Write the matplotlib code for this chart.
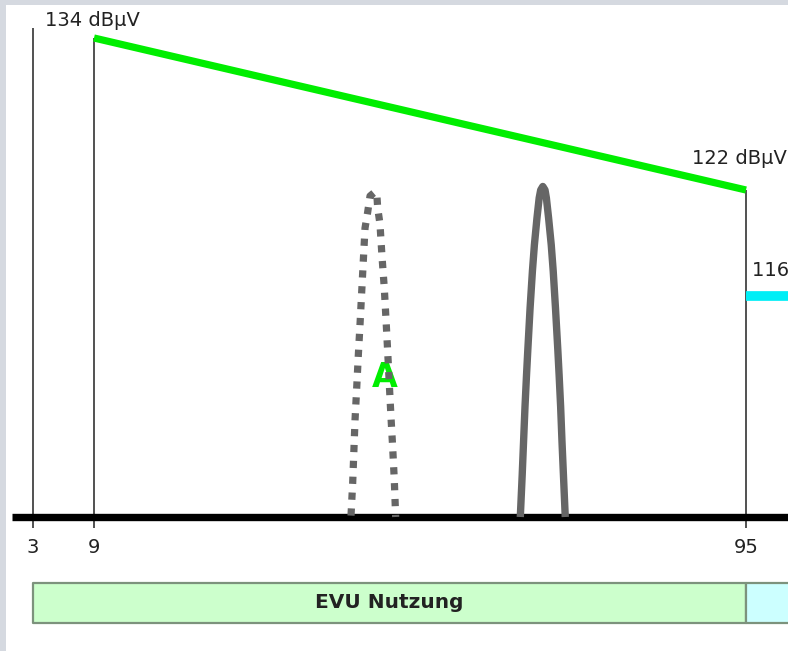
import matplotlib
matplotlib.use("Agg")
import matplotlib.pyplot as plt
import numpy as np

# --- data (frequency in kHz, level in dBµV) ---
tick_freqs = [3, 9, 95]
tick_labels = ["3", "9", "95"]

limit_freq = [9, 95]          # green limit line
limit_level = [134, 122]
limit_b_freq = [95, 125]      # cyan limit line (band B)
limit_b_level = [116, 116]

vline_freqs = [3, 9, 95]
vline_tops = [134.8, 134, 122]

band_labels = ["EVU Nutzung", ""]
band_start = [3, 95]
band_end = [95, 125]
band_colors = ["#ccffcc", "#ccffff"]

# solid signal
sig_freq = [65.23, 65.48, 65.66, 65.85, 66.05, 66.22, 66.52, 66.83, 67.09,
            67.43, 67.72, 67.92, 68.20, 68.49, 68.67, 68.96, 69.31, 69.57,
            69.87, 70.18, 70.35, 70.55, 70.73, 70.92, 71.16]
sig_level = [100, 103.04, 105.45, 107.99, 110.28, 112.09, 115.13, 117.42,
             118.90, 120.42, 121.55, 122.0, 122.28, 122.0, 121.55, 120.42,
             118.90, 117.42, 115.13, 112.09, 110.28, 107.99, 105.45, 103.04,
             100]

# dotted signal
dot_freq = [42.9, 43.12, 43.43, 43.65, 43.86, 44.09, 44.31, 44.52, 44.75,
            45.10, 45.41, 46.06, 46.29, 46.42, 46.72, 46.99, 47.29, 47.52,
            47.74, 47.95, 48.17, 48.40, 48.61, 48.79]
dot_level = [100.1, 102.46, 107.02, 109.34, 111.66, 113.97, 116.23, 117.98,
             119.85, 120.75, 121.66, 121.89, 121.85, 120.98, 120.08, 118.22,
             116.45, 114.26, 111.95, 109.63, 107.26, 105.0, 102.68, 100]

baseline_level = 100

# --- schematic (non linear) axes: anchor values -> figure pixels ---
W, H = 788, 651
xa_f = np.array([3, 9, 95], float)
xa_p = np.array([33, 94, 746], float)
ya_d = np.array([100, 116, 122, 134], float)
ya_p = np.array([H - 517, H - 296, H - 190, H - 38], float)


def _extend(a, p):
    s0 = (p[1] - p[0]) / (a[1] - a[0])
    s1 = (p[-1] - p[-2]) / (a[-1] - a[-2])
    a2 = np.concatenate([[a[0] - 1000], a, [a[-1] + 1000]])
    p2 = np.concatenate([[p[0] - 1000 * s0], p, [p[-1] + 1000 * s1]])
    return a2, p2


XF, XP = _extend(xa_f, xa_p)
YD, YP = _extend(ya_d, ya_p)

fwd_x = lambda v: np.interp(np.asarray(v, float), XF, XP)
inv_x = lambda v: np.interp(np.asarray(v, float), XP, XF)
fwd_y = lambda v: np.interp(np.asarray(v, float), YD, YP)
inv_y = lambda v: np.interp(np.asarray(v, float), YP, YD)

fig = plt.figure(figsize=(W / 100, H / 100), dpi=100, facecolor="#d5d9e0")
ax = fig.add_axes([6 / W, 0, (W - 6) / W, (H - 5) / H])
ax.set_facecolor("white")
ax.set_xscale("function", functions=(fwd_x, inv_x))
ax.set_yscale("function", functions=(fwd_y, inv_y))
ax.set_xlim(float(inv_x(6)), float(inv_x(W)))
ax.set_ylim(float(inv_y(0)), float(inv_y(H - 5)))

for s in ["left", "right", "top"]:
    ax.spines[s].set_visible(False)
ax.spines["bottom"].set_position(("data", baseline_level))
ax.spines["bottom"].set_linewidth(5.3)
ax.spines["bottom"].set_bounds(float(inv_x(12)), float(inv_x(W)))
ax.spines["bottom"].set_capstyle("butt")

ax.set_xticks(tick_freqs)
ax.set_xticklabels(tick_labels)
ax.minorticks_off()
ax.set_yticks([])
ax.tick_params(axis="x", direction="out", length=8, width=1.1,
               pad=7, labelsize=14, labelcolor="#222222", color="#222222")

# vertical marker lines
ax.vlines(vline_freqs, baseline_level, vline_tops, color="#222222",
          lw=1.1, zorder=2)

# limit lines
ax.plot(limit_freq, limit_level, color="#00ee00", lw=5.2,
        solid_capstyle="butt", zorder=3)
ax.plot(limit_b_freq, limit_b_level, color="#00eef6", lw=7,
        solid_capstyle="butt", zorder=3)

# signals
ax.plot(sig_freq, sig_level, color="#666666", lw=5.3,
        solid_joinstyle="round", solid_capstyle="butt", zorder=3)
ax.plot(dot_freq, dot_level, color="#666666", lw=5.2,
        dashes=(1, 1.2), dash_capstyle="butt", zorder=3)

ax.text(47.4, 110.1, "A", color="#00ee00", fontsize=24, fontweight="bold",
        ha="center", va="center", zorder=2.5)

# level labels
ax.annotate("134 dBµV", (limit_freq[0], limit_level[0]),
            xytext=(-2, 18), textcoords="offset pixels",
            ha="center", va="center", fontsize=14, color="#222222",
            annotation_clip=False)
ax.annotate("122 dBµV", (limit_freq[1], limit_level[1]),
            xytext=(-7, 32), textcoords="offset pixels",
            ha="center", va="center", fontsize=14, color="#222222",
            annotation_clip=False)
ax.annotate("116 dBµV", (limit_b_freq[0], limit_b_level[0]),
            xytext=(6, 25), textcoords="offset pixels",
            ha="left", va="center", fontsize=14, color="#222222",
            annotation_clip=False)

# band bar below the axis
trans = ax.get_xaxis_transform()
y0, y1 = 28 / (H - 5), 68 / (H - 5)
for lab, a, b, c in zip(band_labels, band_start, band_end, band_colors):
    ax.fill_between([a, b], y0, y1, transform=trans, facecolor=c,
                    edgecolor="#7c927c", lw=1.6, zorder=2)
    if lab:
        ax.text(float(inv_x((fwd_x(a) + fwd_x(b)) / 2)), (y0 + y1) / 2, lab,
                transform=trans, ha="center", va="center", fontsize=14.5,
                fontweight="bold", color="#222222")

fig.savefig("out.png", dpi=100, facecolor=fig.get_facecolor())
